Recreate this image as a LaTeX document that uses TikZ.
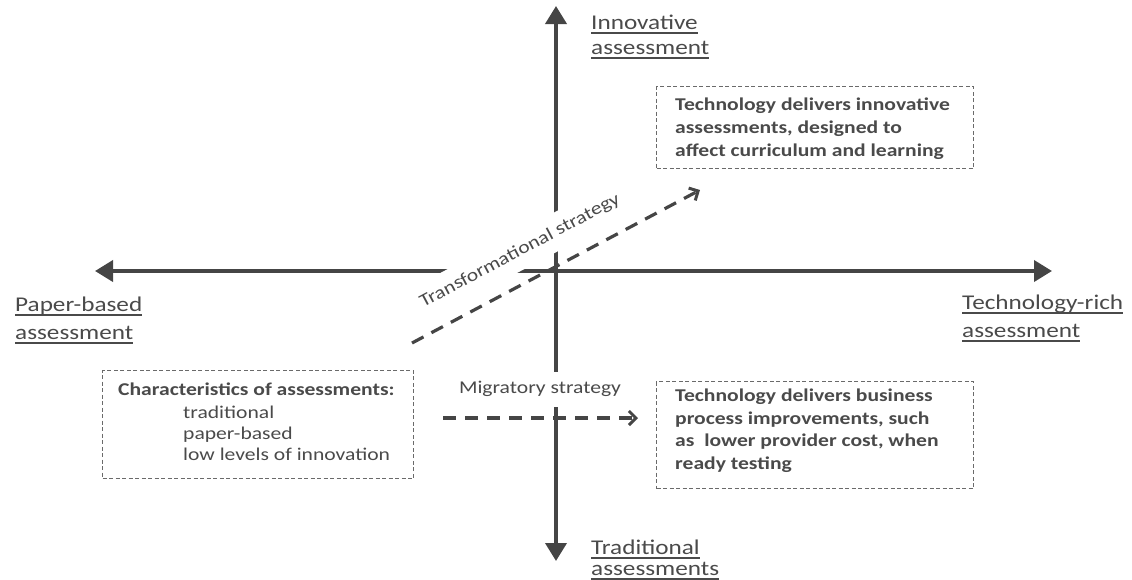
\documentclass[tikz,border=0pt]{standalone}
\usepackage{fontspec}
\setmainfont{Carlito}[FakeStretch=1.2]
\usetikzlibrary{arrows.meta}
\definecolor{ink}{HTML}{454545}
\definecolor{txt}{HTML}{4A4A4A}
\newcommand\ulx[1]{\setbox0\hbox{#1}\rlap{\color{txt}\rule[-4pt]{\wd0}{1.6pt}}\box0}
\begin{document}
\begin{tikzpicture}[x=1pt,y=-1pt,
  axis/.style={draw=ink,line width=3.8pt,-{Triangle[length=18pt,width=21pt]}},
  strat/.style={draw=ink,line width=3.2pt,dash pattern=on 13pt off 9pt,-{Straight Barb[length=7pt,width=14pt,line width=3pt]}},
  box/.style={draw=ink!80,line width=1pt,dash pattern=on 4pt off 2.5pt,inner sep=0pt,anchor=north west},
  lbl/.style={font=\fontsize{21}{25}\selectfont,text=txt,align=left,anchor=north west,inner sep=0pt},
  btxt/.style={font=\fontsize{18}{23}\selectfont\bfseries,text=txt,align=left,inner sep=0pt,anchor=north west},
  ntxt/.style={font=\fontsize{18}{21}\selectfont,text=txt,align=left,inner sep=0pt,anchor=north west},
  strtxt/.style={font=\fontsize{18}{22}\selectfont,text=txt,fill=white,inner sep=3pt}]
\useasboundingbox (0,0) rectangle (1132,579);
\coordinate (O) at (556,271);
\coordinate (top) at (556,6);
\coordinate (bot) at (556,561);
\coordinate (lft) at (95,271);
\coordinate (rgt) at (1052,271);
\draw[axis] (O) -- (top);
\draw[axis] (O) -- (bot);
\draw[axis] (O) -- (lft);
\draw[axis] (O) -- (rgt);
% labels
\node[lbl] (inn) at (591,15) {\ulx{Innovative}\\\ulx{assessment}};
\node[lbl,font=\fontsize{21}{28}\selectfont] (pap) at (15,297) {\ulx{Paper-based}\\\ulx{assessment}};
\node[lbl,font=\fontsize{21}{28}\selectfont] (tec) at (962,295) {\ulx{Technology-rich}\\\ulx{assessment}};
\node[lbl,font=\fontsize{21}{21}\selectfont] (tra) at (591,540) {\ulx{Traditional}\\\ulx{assessments}};
% boxes
\node[box,minimum width=317pt,minimum height=82pt] (b1) at (656,86) {};
\node[btxt] (t1) at (675,98) {Technology delivers innovative\\assessments, designed to\\affect curriculum and learning};
\node[box,minimum width=317pt,minimum height=107pt] (b2) at (656,381) {};
\node[btxt,font=\fontsize{18}{22.5}\selectfont\bfseries] (t2) at (675,389) {Technology delivers business\\process improvements, such\\as~ lower provider cost, when\\ready testing};
\node[box,minimum width=311pt,minimum height=108pt] (b3) at (102,370) {};
\node[btxt] (t3) at (118,383) {Characteristics of assessments:};
\node[ntxt] (t4) at (183,406) {traditional\\paper-based\\low levels of innovation};
% strategies
\node[strtxt,rotate=28,minimum height=36pt] (trs) at (520,251) {Transformational strategy};
\node[strtxt,minimum height=35pt] (mig) at (540,389) {Migratory strategy};
\coordinate (ts) at (412,343);
\coordinate (te) at (700,190);
\draw[strat] (ts) -- (te);
\coordinate (ms) at (443,418);
\coordinate (me) at (638,418);
\draw[strat] (ms) -- (me);
\end{tikzpicture}
\end{document}
